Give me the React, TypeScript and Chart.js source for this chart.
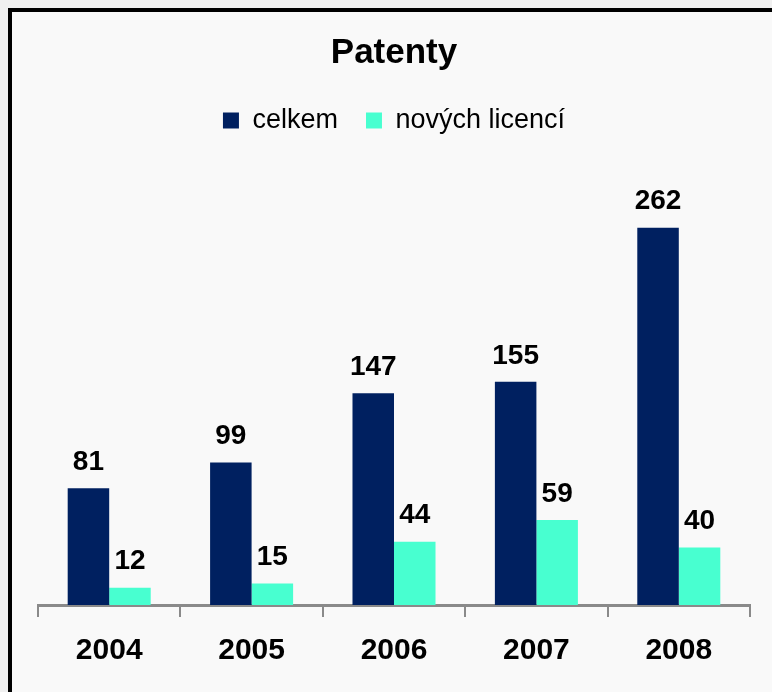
import React, { useEffect, useRef } from "react";
import { Chart, registerables } from "chart.js";

Chart.register(...registerables);

const categories = ["2004", "2005", "2006", "2007", "2008"];
const celkem = [81, 99, 147, 155, 262];
const novychLicenci = [12, 15, 44, 59, 40];
const seriesNames = ["celkem", "nových licencí"];
const titleText = "Patenty";

const FONT = "'Liberation Sans', Arial, sans-serif";

const valueLabels = {
  id: "valueLabels",
  afterDatasetsDraw(chart: any) {
    const ctx = chart.ctx;
    ctx.save();
    ctx.font = `bold 28px ${FONT}`;
    ctx.fillStyle = "#000";
    ctx.textAlign = "center";
    ctx.textBaseline = "middle";
    chart.data.datasets.forEach((ds: any, di: number) => {
      const meta = chart.getDatasetMeta(di);
      meta.data.forEach((el: any, i: number) => {
        ctx.fillText(String(ds.data[i]), el.x, el.y - 26);
      });
    });
    ctx.restore();
  },
};

const legendSpace = {
  id: "legendSpace",
  beforeInit(chart: any) {
    const orig = chart.legend.fit;
    chart.legend.fit = function () {
      orig.bind(chart.legend)();
      this.height += 29;
    };
  },
};

export default function App() {
  const ref = useRef<HTMLCanvasElement | null>(null);
  useEffect(() => {
    document.body.style.overflow = "hidden";
    document.body.style.background = "#f0f0f0";
    const chart = new Chart(ref.current as HTMLCanvasElement, {
      type: "bar",
      data: {
        labels: categories,
        datasets: [
          { label: seriesNames[0], data: celkem, backgroundColor: "#002060" },
          { label: seriesNames[1], data: novychLicenci, backgroundColor: "#48FFD0" },
        ],
      },
      options: {
        animation: false,
        responsive: false,
        maintainAspectRatio: false,
        layout: { padding: { left: 26, right: 26, top: 0, bottom: 17 } },
        datasets: { bar: { categoryPercentage: 0.583, barPercentage: 1 } },
        plugins: {
          title: {
            display: true,
            text: titleText,
            color: "#000",
            font: { family: FONT, size: 35, weight: "bold" },
            padding: { top: 20, bottom: 5 },
          },
          legend: {
            display: true,
            position: "top",
            labels: {
              color: "#000",
              font: { family: FONT, size: 27 },
              boxWidth: 16,
              boxHeight: 16,
              padding: 28,
            },
          },
          tooltip: { enabled: false },
        },
        scales: {
          x: {
            grid: {
              offset: true,
              drawOnChartArea: false,
              drawTicks: true,
              tickLength: 12,
              color: "#8a8a8a",
              lineWidth: 2,
            },
            border: { display: true, color: "#8a8a8a", width: 3 },
            ticks: {
              color: "#000",
              font: { family: FONT, size: 30, weight: "bold" },
              padding: 16,
            },
          },
          y: {
            display: false,
            min: 0,
            max: 300,
          },
        },
      },
      plugins: [valueLabels, legendSpace],
    });
    return () => chart.destroy();
  }, []);
  return (
    <div
      style={{
        position: "absolute",
        left: 8,
        top: 8,
        width: 764,
        height: 690,
        borderTop: "4px solid #000",
        borderLeft: "4px solid #000",
        background: "#f9f9f9",
      }}
    >
      <canvas ref={ref} width={764} height={690} style={{ display: "block" }} />
    </div>
  );
}
